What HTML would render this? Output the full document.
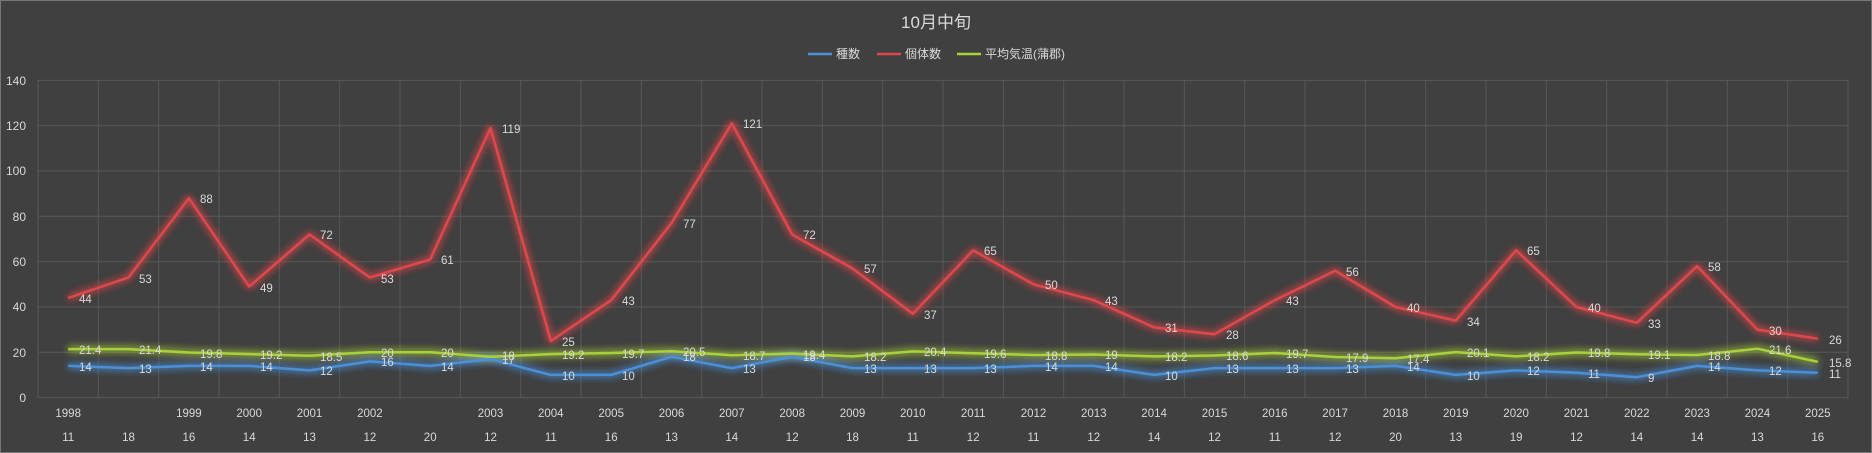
<!DOCTYPE html><html><head><meta charset="utf-8"><style>body{margin:0;background:#404040}svg{display:block}text{font-family:"Liberation Sans","Noto Sans CJK JP",sans-serif;fill:#d9d9d9}</style></head><body>
<svg width="1872" height="453" viewBox="0 0 1872 453" xmlns="http://www.w3.org/2000/svg">
<defs><filter id="g" x="-5%" y="-20%" width="110%" height="140%"><feGaussianBlur in="SourceGraphic" stdDeviation="4" result="b"/><feMerge><feMergeNode in="b"/><feMergeNode in="b"/><feMergeNode in="SourceGraphic"/></feMerge></filter></defs>
<rect x="0.5" y="0.5" width="1871" height="452" fill="#404040" stroke="#777"/>
<g stroke="#585858" stroke-width="1">
<line x1="38" y1="80.4" x2="1848" y2="80.4"/><line x1="38" y1="125.7" x2="1848" y2="125.7"/><line x1="38" y1="171" x2="1848" y2="171"/><line x1="38" y1="216.3" x2="1848" y2="216.3"/><line x1="38" y1="261.7" x2="1848" y2="261.7"/><line x1="38" y1="307" x2="1848" y2="307"/><line x1="38" y1="352.3" x2="1848" y2="352.3"/><line x1="38" y1="397.6" x2="1848" y2="397.6"/>
<line x1="38" y1="80" x2="38" y2="398"/><line x1="98.3" y1="80" x2="98.3" y2="398"/><line x1="158.7" y1="80" x2="158.7" y2="398"/><line x1="219" y1="80" x2="219" y2="398"/><line x1="279.3" y1="80" x2="279.3" y2="398"/><line x1="339.7" y1="80" x2="339.7" y2="398"/><line x1="400" y1="80" x2="400" y2="398"/><line x1="460.3" y1="80" x2="460.3" y2="398"/><line x1="520.7" y1="80" x2="520.7" y2="398"/><line x1="581" y1="80" x2="581" y2="398"/><line x1="641.3" y1="80" x2="641.3" y2="398"/><line x1="701.7" y1="80" x2="701.7" y2="398"/><line x1="762" y1="80" x2="762" y2="398"/><line x1="822.3" y1="80" x2="822.3" y2="398"/><line x1="882.7" y1="80" x2="882.7" y2="398"/><line x1="943" y1="80" x2="943" y2="398"/><line x1="1003.3" y1="80" x2="1003.3" y2="398"/><line x1="1063.7" y1="80" x2="1063.7" y2="398"/><line x1="1124" y1="80" x2="1124" y2="398"/><line x1="1184.3" y1="80" x2="1184.3" y2="398"/><line x1="1244.7" y1="80" x2="1244.7" y2="398"/><line x1="1305" y1="80" x2="1305" y2="398"/><line x1="1365.3" y1="80" x2="1365.3" y2="398"/><line x1="1425.7" y1="80" x2="1425.7" y2="398"/><line x1="1486" y1="80" x2="1486" y2="398"/><line x1="1546.3" y1="80" x2="1546.3" y2="398"/><line x1="1606.7" y1="80" x2="1606.7" y2="398"/><line x1="1667" y1="80" x2="1667" y2="398"/><line x1="1727.3" y1="80" x2="1727.3" y2="398"/><line x1="1787.7" y1="80" x2="1787.7" y2="398"/><line x1="1848" y1="80" x2="1848" y2="398"/>
</g>
<text x="936" y="28" font-size="17" text-anchor="middle">10月中旬</text>
<g font-size="12">
<line x1="808" y1="54" x2="832" y2="54" stroke="#4a90d9" stroke-width="2.5"/><text x="836" y="58">種数</text>
<line x1="877" y1="54" x2="901" y2="54" stroke="#e0474c" stroke-width="2.5"/><text x="905" y="58">個体数</text>
<line x1="957" y1="54" x2="981" y2="54" stroke="#a9d13a" stroke-width="2.5"/><text x="985" y="58">平均気温(蒲郡)</text>
</g>
<g font-size="12" text-anchor="end">
<text x="26" y="85">140</text><text x="26" y="130">120</text><text x="26" y="175">100</text><text x="26" y="221">80</text><text x="26" y="266">60</text><text x="26" y="311">40</text><text x="26" y="357">20</text><text x="26" y="402">0</text>
</g>
<g fill="none" stroke-width="2.5" stroke-linejoin="round" filter="url(#g)">
<polyline stroke="#a9d13a" points="68.2,349.1 128.5,349.1 188.9,352.5 249.2,354.1 309.5,355.7 369.9,352.3 430.2,352.3 490.5,356.8 550.8,354.1 611.2,353 671.5,351.2 731.8,355.2 792.2,353.6 852.5,356.4 912.8,351.4 973.2,353.2 1033.5,355 1093.8,354.5 1154.1,356.4 1214.5,355.5 1274.8,353 1335.1,357 1395.5,358.2 1455.8,352.1 1516.1,356.4 1576.5,352.5 1636.8,354.3 1697.1,355 1757.4,348.7 1817.8,361.8"/>
<polyline stroke="#4a90d9" points="68.2,365.9 128.5,368.1 188.9,365.9 249.2,365.9 309.5,370.4 369.9,361.4 430.2,365.9 490.5,359.1 550.8,374.9 611.2,374.9 671.5,356.8 731.8,368.1 792.2,356.8 852.5,368.1 912.8,368.1 973.2,368.1 1033.5,365.9 1093.8,365.9 1154.1,374.9 1214.5,368.1 1274.8,368.1 1335.1,368.1 1395.5,365.9 1455.8,374.9 1516.1,370.4 1576.5,372.7 1636.8,377.2 1697.1,365.9 1757.4,370.4 1817.8,372.7"/>
<polyline stroke="#e0474c" points="68.2,297.9 128.5,277.5 188.9,198.2 249.2,286.6 309.5,234.5 369.9,277.5 430.2,259.4 490.5,128 550.8,341 611.2,300.2 671.5,223.1 731.8,123.4 792.2,234.5 852.5,268.5 912.8,313.8 973.2,250.3 1033.5,284.3 1093.8,300.2 1154.1,327.4 1214.5,334.2 1274.8,300.2 1335.1,270.7 1395.5,307 1455.8,320.6 1516.1,250.3 1576.5,307 1636.8,322.8 1697.1,266.2 1757.4,329.6 1817.8,338.7"/>
</g>
<g font-size="11.5">
<text x="79" y="303">44</text><text x="139" y="283">53</text><text x="200" y="203">88</text><text x="260" y="292">49</text><text x="320" y="239">72</text><text x="381" y="283">53</text><text x="441" y="264">61</text><text x="502" y="133">119</text><text x="562" y="346">25</text><text x="622" y="305">43</text><text x="683" y="228">77</text><text x="743" y="128">121</text><text x="803" y="239">72</text><text x="864" y="273">57</text><text x="924" y="319">37</text><text x="984" y="255">65</text><text x="1045" y="289">50</text><text x="1105" y="305">43</text><text x="1165" y="332">31</text><text x="1226" y="339">28</text><text x="1286" y="305">43</text><text x="1346" y="276">56</text><text x="1407" y="312">40</text><text x="1467" y="326">34</text><text x="1527" y="255">65</text><text x="1588" y="312">40</text><text x="1648" y="328">33</text><text x="1708" y="271">58</text><text x="1769" y="335">30</text><text x="1829" y="344">26</text>
<text x="79" y="354">21.4</text><text x="139" y="354">21.4</text><text x="200" y="358">19.8</text><text x="260" y="359">19.2</text><text x="320" y="361">18.5</text><text x="381" y="357">20</text><text x="441" y="357">20</text><text x="502" y="360">18</text><text x="562" y="359">19.2</text><text x="622" y="358">19.7</text><text x="683" y="356">20.5</text><text x="743" y="360">18.7</text><text x="803" y="359">19.4</text><text x="864" y="361">18.2</text><text x="924" y="356">20.4</text><text x="984" y="358">19.6</text><text x="1045" y="360">18.8</text><text x="1105" y="359">19</text><text x="1165" y="361">18.2</text><text x="1226" y="360">18.6</text><text x="1286" y="358">19.7</text><text x="1346" y="362">17.9</text><text x="1407" y="363">17.4</text><text x="1467" y="357">20.1</text><text x="1527" y="361">18.2</text><text x="1588" y="357">19.8</text><text x="1648" y="359">19.1</text><text x="1708" y="360">18.8</text><text x="1769" y="354">21.6</text><text x="1829" y="367">15.8</text>
<text x="79" y="371">14</text><text x="139" y="373">13</text><text x="200" y="371">14</text><text x="260" y="371">14</text><text x="320" y="375">12</text><text x="381" y="366">16</text><text x="441" y="371">14</text><text x="502" y="364">17</text><text x="562" y="380">10</text><text x="622" y="380">10</text><text x="683" y="361">18</text><text x="743" y="373">13</text><text x="803" y="361">18</text><text x="864" y="373">13</text><text x="924" y="373">13</text><text x="984" y="373">13</text><text x="1045" y="371">14</text><text x="1105" y="371">14</text><text x="1165" y="380">10</text><text x="1226" y="373">13</text><text x="1286" y="373">13</text><text x="1346" y="373">13</text><text x="1407" y="371">14</text><text x="1467" y="380">10</text><text x="1527" y="375">12</text><text x="1588" y="378">11</text><text x="1648" y="382">9</text><text x="1708" y="371">14</text><text x="1769" y="375">12</text><text x="1829" y="378">11</text>
</g>
<g font-size="11.5" text-anchor="middle">
<text x="68.2" y="417">1998</text><text x="188.9" y="417">1999</text><text x="249.2" y="417">2000</text><text x="309.5" y="417">2001</text><text x="369.9" y="417">2002</text><text x="490.5" y="417">2003</text><text x="550.8" y="417">2004</text><text x="611.2" y="417">2005</text><text x="671.5" y="417">2006</text><text x="731.8" y="417">2007</text><text x="792.2" y="417">2008</text><text x="852.5" y="417">2009</text><text x="912.8" y="417">2010</text><text x="973.2" y="417">2011</text><text x="1033.5" y="417">2012</text><text x="1093.8" y="417">2013</text><text x="1154.1" y="417">2014</text><text x="1214.5" y="417">2015</text><text x="1274.8" y="417">2016</text><text x="1335.1" y="417">2017</text><text x="1395.5" y="417">2018</text><text x="1455.8" y="417">2019</text><text x="1516.1" y="417">2020</text><text x="1576.5" y="417">2021</text><text x="1636.8" y="417">2022</text><text x="1697.1" y="417">2023</text><text x="1757.4" y="417">2024</text><text x="1817.8" y="417">2025</text>
<text x="68.2" y="441">11</text><text x="128.5" y="441">18</text><text x="188.9" y="441">16</text><text x="249.2" y="441">14</text><text x="309.5" y="441">13</text><text x="369.9" y="441">12</text><text x="430.2" y="441">20</text><text x="490.5" y="441">12</text><text x="550.8" y="441">11</text><text x="611.2" y="441">16</text><text x="671.5" y="441">13</text><text x="731.8" y="441">14</text><text x="792.2" y="441">12</text><text x="852.5" y="441">18</text><text x="912.8" y="441">11</text><text x="973.2" y="441">12</text><text x="1033.5" y="441">11</text><text x="1093.8" y="441">12</text><text x="1154.1" y="441">14</text><text x="1214.5" y="441">12</text><text x="1274.8" y="441">11</text><text x="1335.1" y="441">12</text><text x="1395.5" y="441">20</text><text x="1455.8" y="441">13</text><text x="1516.1" y="441">19</text><text x="1576.5" y="441">12</text><text x="1636.8" y="441">14</text><text x="1697.1" y="441">14</text><text x="1757.4" y="441">13</text><text x="1817.8" y="441">16</text>
</g>
</svg></body></html>
